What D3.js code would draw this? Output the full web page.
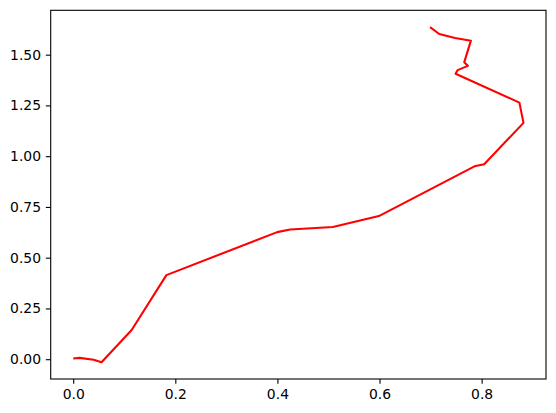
<!DOCTYPE html>
<meta charset="utf-8">
<script src="https://d3js.org/d3.v7.min.js"></script>
<style>
  body { margin: 0; background: #fff; }
  text { font-family: "DejaVu Sans", sans-serif; }
</style>
<body>
<script>
// Path values
var xs = [0.000, 0.0125, 0.040, 0.0555, 0.1145, 0.1825, 0.3996, 0.425, 0.5085, 0.5987,
          0.786, 0.805, 0.882, 0.874, 0.749, 0.753, 0.773, 0.766, 0.779, 0.748, 0.717, 0.699];
var ys = [0.003, 0.0065, -0.003, -0.015, 0.144, 0.414, 0.626, 0.639, 0.651, 0.705,
          0.950, 0.960, 1.164, 1.264, 1.406, 1.424, 1.445, 1.463, 1.569, 1.582, 1.602, 1.636];
var xTicks = [0.0, 0.2, 0.4, 0.6, 0.8];
var yTicks = [0.00, 0.25, 0.50, 0.75, 1.00, 1.25, 1.50];

var margin = {top: 10.3, right: 10, bottom: 34, left: 50.7},
    width = 556 - margin.left - margin.right,
    height = 413 - margin.top - margin.bottom;

var svg = d3.select("body")
  .append("svg")
  .attr("width", 556)
  .attr("height", 413)
  .append("g")
  .attr("transform", "translate(" + margin.left + "," + margin.top + ")");

// matplotlib style 5% margins around the data
function padded(vals) {
    var ext = d3.extent(vals), pad = (ext[1] - ext[0]) * 0.05;
    return [ext[0] - pad, ext[1] + pad];
}

var x = d3.scaleLinear().domain(padded(xs)).range([0, width]);
var y = d3.scaleLinear().domain(padded(ys)).range([height, 0]);

var xAxis = svg.append("g")
  .attr("transform", "translate(0," + height + ")")
  .call(d3.axisBottom(x).tickValues(xTicks).tickFormat(d3.format(".1f"))
        .tickSize(4.86).tickPadding(4.86));
var yAxis = svg.append("g")
  .call(d3.axisLeft(y).tickValues(yTicks).tickFormat(d3.format(".2f"))
        .tickSize(4.86).tickPadding(4.86));

[xAxis, yAxis].forEach(function(a) {
    a.select(".domain").remove();
    a.selectAll("line").attr("stroke", "#000").attr("stroke-width", 1.1);
    a.selectAll("text").attr("font-size", "13.9px").attr("fill", "#000")
      .attr("font-family", "DejaVu Sans");
});

var pts = xs.map(function(d, i) { return [d, ys[i]]; });

svg.append("path")
  .datum(pts)
  .attr("fill", "none")
  .attr("stroke", "red")
  .attr("stroke-width", 2.08)
  .attr("stroke-linejoin", "round")
  .attr("d", d3.line().x(function(d) { return x(d[0]); }).y(function(d) { return y(d[1]); }));

// axes frame
svg.append("rect")
  .attr("width", width)
  .attr("height", height)
  .attr("fill", "none")
  .attr("stroke", "#000")
  .attr("stroke-width", 1.1);
</script>
</body>
</html>
